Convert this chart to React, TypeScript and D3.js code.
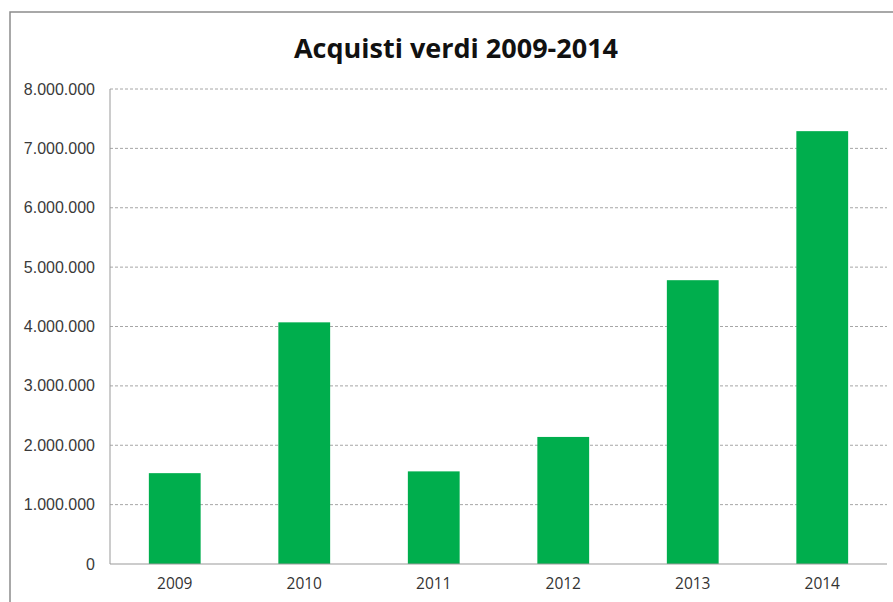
import React from "react";
import * as d3 from "d3";

const categories = ["2009", "2010", "2011", "2012", "2013", "2014"];
const values = [1530000, 4070000, 1560000, 2140000, 4780000, 7290000];
const yTicks = [0, 1000000, 2000000, 3000000, 4000000, 5000000, 6000000, 7000000, 8000000];
const title = "Acquisti verdi 2009-2014";

const W = 893;
const H = 602;
const left = 110;
const right = 887;
const top = 89;
const bottom = 564;

const fmt = (v: number) =>
  v === 0 ? "0" : d3.format(",")(v).replace(/,/g, ".");

export default function App() {
  const x = d3.scaleBand<string>().domain(categories).range([left, right]).paddingInner(0.6).paddingOuter(0.3);
  const y = d3.scaleLinear().domain([0, 8000000]).range([bottom, top]);
  return (
    <svg width={W} height={H} style={{ position: "absolute", left: 0, top: 0, background: "#fff" }}>
      <rect x={0} y={0} width={W} height={H} fill="#fff" />
      <path d={`M10,${H} V12 H${W}`} fill="none" stroke="#8c8c8c" strokeWidth={1.5} />
      <text x={456} y={58} textAnchor="middle" fontFamily="'Open Sans', sans-serif" fontWeight="bold" fontSize={27} fill="#111">
        {title}
      </text>
      {yTicks.map((t) => (
        <g key={t}>
          {t > 0 && (
            <line x1={left} x2={right} y1={y(t)} y2={y(t)} stroke="#a6a6a6" strokeWidth={1} strokeDasharray="3,2" />
          )}
          <text x={95} y={y(t) + 5.5} textAnchor="end" fontFamily="'Liberation Sans', Arial, sans-serif" fontSize={16} fill="#3a3a3a">
            {fmt(t)}
          </text>
        </g>
      ))}
      <line x1={left} x2={left} y1={top} y2={bottom} stroke="#999" strokeWidth={1} />
      {categories.map((c, i) => (
        <rect key={c} x={x(c)} y={y(values[i])} width={x.bandwidth()} height={bottom - y(values[i])} fill="#00ae4d" />
      ))}
      <line x1={left} x2={right} y1={bottom} y2={bottom} stroke="#999" strokeWidth={1.2} />
      {categories.map((c) => (
        <text key={c} x={(x(c) as number) + x.bandwidth() / 2} y={589} textAnchor="middle" fontFamily="'Open Sans', sans-serif" fontSize={15.5} fill="#333">
          {c}
        </text>
      ))}
    </svg>
  );
}
